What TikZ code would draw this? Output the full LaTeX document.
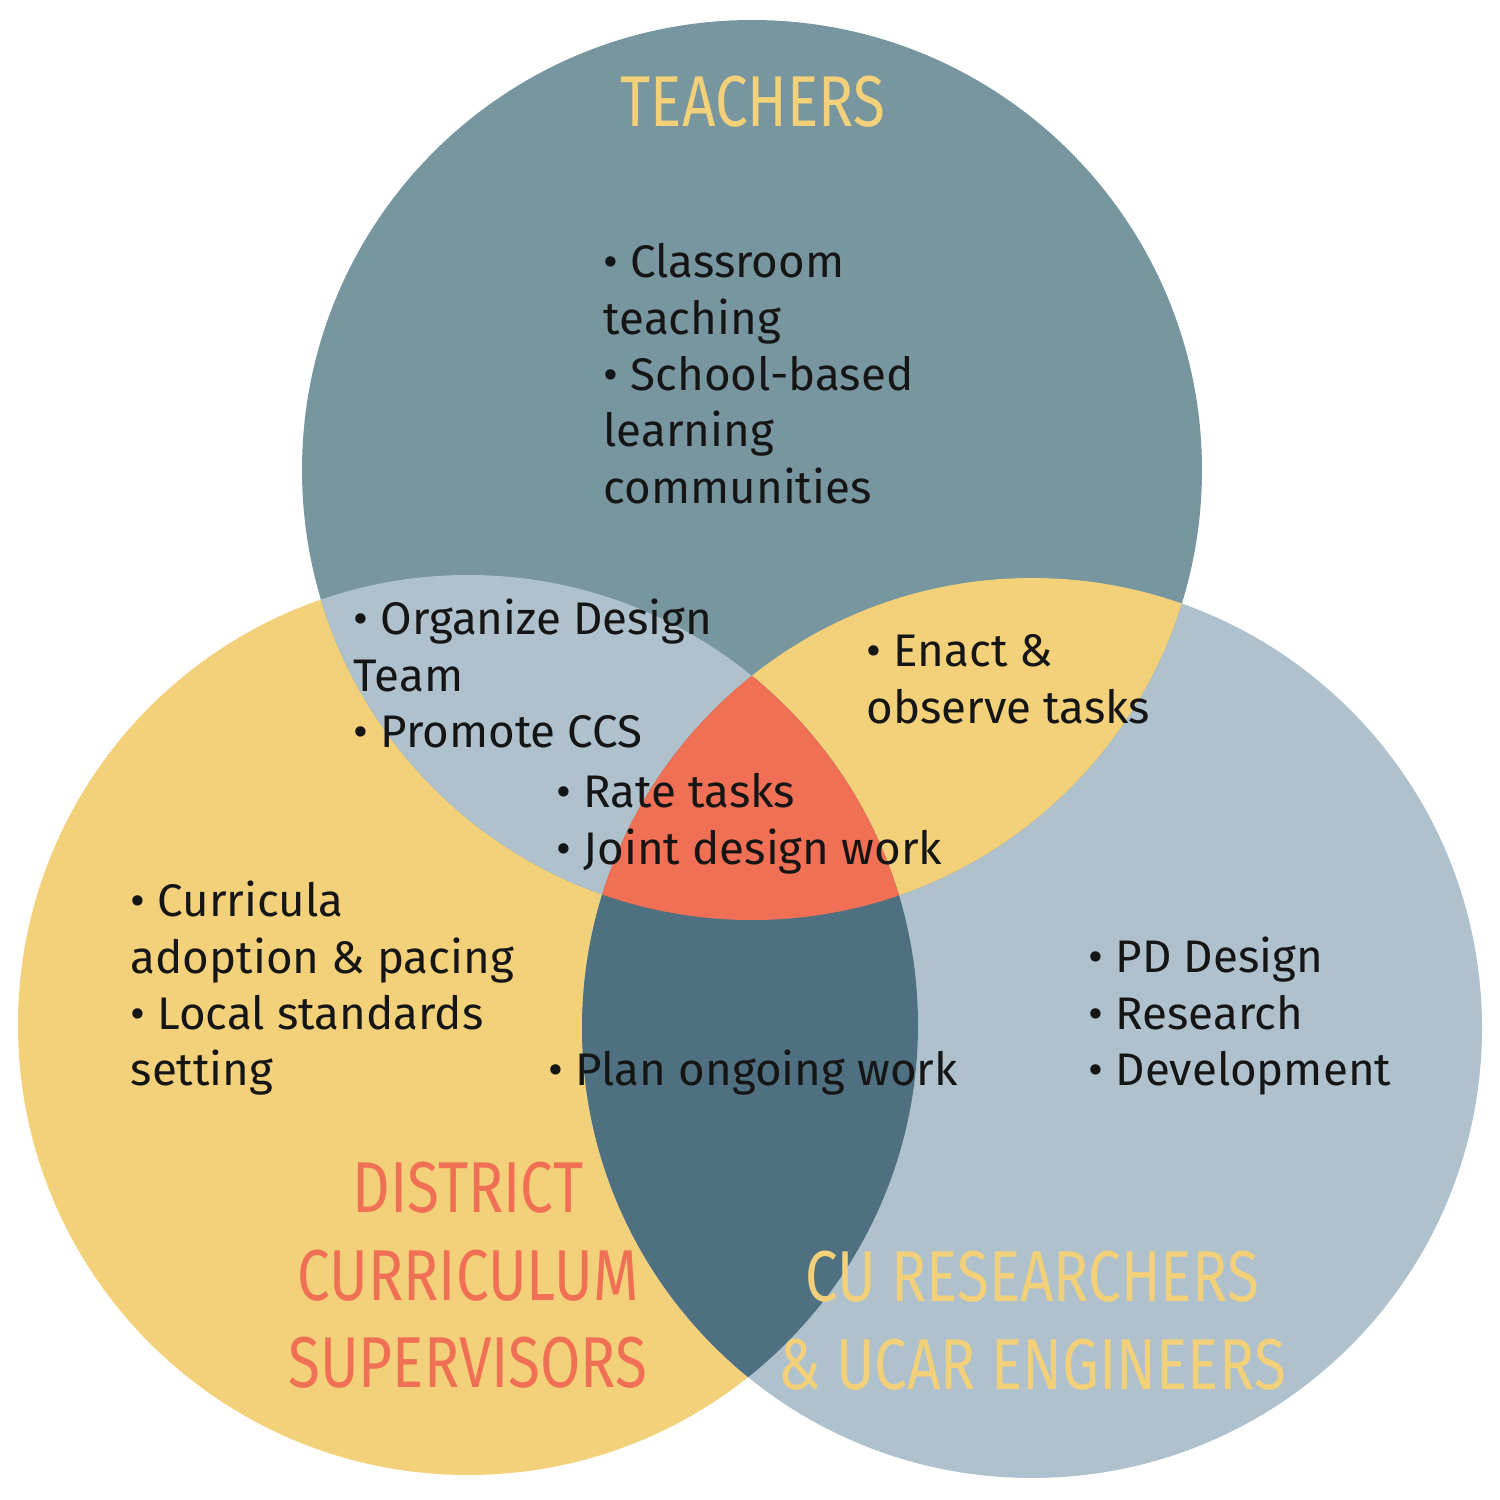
\documentclass[tikz,border=0pt]{standalone}
\usepackage{fontspec}
\setmainfont{Fira Sans}
\newfontfamily\headfont[FakeStretch=0.81]{Fira Sans}
\definecolor{slate}{HTML}{7896A0}
\definecolor{lightblue}{HTML}{AFC1CD}
\definecolor{sun}{HTML}{F2D17A}
\definecolor{deep}{HTML}{4F7080}
\definecolor{coral}{HTML}{F07055}
\definecolor{ink}{HTML}{151515}
\newcommand\bodyblock[1]{\vtop{\baselineskip=0.563cm\lineskiplimit=-5cm\halign{##\hfil\cr #1\crcr}}}
\newcommand\headblock[1]{\vtop{\baselineskip=0.875cm\lineskiplimit=-5cm\halign{\hfil##\hfil\cr #1\crcr}}}
\tikzset{
  bodytext/.style={anchor=base west, inner sep=0pt, text=ink, font=\fontsize{13pt}{15pt}\selectfont},
  headtext/.style={anchor=base, inner sep=0pt, font=\headfont\fontsize{20.5pt}{25pt}\selectfont},
}
\begin{document}
\begin{tikzpicture}
\useasboundingbox (0,0) rectangle (15,15);
\def\topc{(7.52,10.30) circle (4.5)}
\def\leftc{(4.68,4.75) circle (4.5)}
\def\rightc{(10.32,4.72) circle (4.5)}
% base circles
\fill[sun] \leftc;
\fill[lightblue] \rightc;
\fill[slate] \topc;
% pairwise intersections
\begin{scope}
  \clip \topc;
  \fill[lightblue] \leftc;
  \fill[sun] \rightc;
\end{scope}
\begin{scope}
  \clip \leftc;
  \fill[deep] \rightc;
\end{scope}
% triple intersection
\begin{scope}
  \clip \topc;
  \clip \leftc;
  \fill[coral] \rightc;
\end{scope}
% headings
\node[headtext, text=sun] (teachers) at (7.53,13.73) {\headblock{TEACHERS}};
\node[headtext, text=coral] (district) at (4.68,2.87) {\headblock{DISTRICT\cr CURRICULUM\cr SUPERVISORS}};
\node[headtext, text=sun] (cu) at (10.32,1.98) {\headblock{CU RESEARCHERS\cr \& UCAR ENGINEERS}};
% body texts
\node[bodytext] (tblock) at (6.03,12.22) {\bodyblock{• Classroom\cr teaching\cr • School-based\cr learning\cr communities}};
\node[bodytext] (tlblock) at (3.53,8.65) {\bodyblock{• Organize Design\cr Team\cr • Promote CCS}};
\node[bodytext] (allblock) at (5.56,6.92) {\bodyblock{• Rate tasks\cr • Joint design work}};
\node[bodytext] (trblock) at (8.66,8.33) {\bodyblock{• Enact \&\cr observe tasks}};
\node[bodytext] (lblock) at (1.30,5.83) {\bodyblock{• Curricula\cr adoption \& pacing\cr • Local standards\cr setting}};
\node[bodytext] (lrblock) at (5.48,4.14) {\bodyblock{• Plan ongoing work}};
\node[bodytext] (rblock) at (10.88,5.27) {\bodyblock{• PD Design\cr • Research\cr • Development}};
\end{tikzpicture}
\end{document}
